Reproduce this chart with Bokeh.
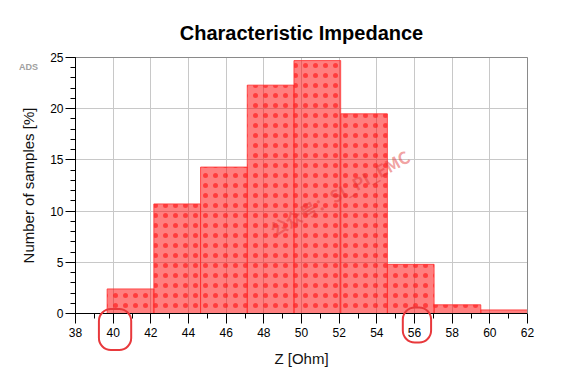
from bokeh.plotting import figure
from bokeh.models import FixedTicker, Label, Range1d, LinearAxis, BoxAnnotation
from bokeh.embed import file_html
from bokeh.resources import INLINE

# ---- data ----
bin_edges = [39.68, 42.16, 44.64, 47.12, 49.60, 52.08, 54.56, 57.04, 59.52, 62.00]
samples_pct = [2.4, 10.7, 14.3, 22.3, 24.7, 19.5, 4.8, 0.85, 0.35]
x_ticks = [38, 40, 42, 44, 46, 48, 50, 52, 54, 56, 58, 60, 62]
x_minor = list(range(38, 63))
y_ticks = [0, 5, 10, 15, 20, 25]
y_minor = list(range(0, 26))
marked_ticks = [40, 56]
x_lim = (38, 62)
y_lim = (0, 25)

FONT = "Liberation Sans"

# canvas geometry: the plotting frame covers the whole canvas so that the
# decorations below the axis are not clipped
W, H = 556, 373
PX_X = 452 / 24.0      # pixels per Ohm
PX_Y = 256 / 25.0      # pixels per percent
x0 = x_lim[0] - 75 / PX_X
y1 = y_lim[1] + 57 / PX_Y

p = figure(
    frame_width=W, frame_height=H, min_border=0,
    x_range=Range1d(x0, x0 + W / PX_X), y_range=Range1d(y1 - H / PX_Y, y1),
    output_backend="svg", toolbar_location=None,
)
p.background_fill_color = "white"
p.border_fill_color = "white"
p.outline_line_color = None

p.quad(left=bin_edges[:-1], right=bin_edges[1:], bottom=0, top=samples_pct,
       fill_color="#ff0000", fill_alpha=0.5,
       line_color="#ff3030", line_alpha=0.8, line_width=1,
       hatch_pattern="dot", hatch_color="#ff1a1a", hatch_alpha=0.65,
       hatch_scale=10, hatch_weight=1)

p.xaxis.fixed_location = y_lim[0]
p.yaxis.fixed_location = x_lim[0]
p.xaxis.bounds = x_lim
p.yaxis.bounds = y_lim

for ax, ticks, minor in ((p.xaxis, x_ticks, x_minor), (p.yaxis, y_ticks, y_minor)):
    ax.ticker = FixedTicker(ticks=ticks, minor_ticks=minor)
    ax.axis_line_color = "black"
    ax.axis_line_width = 1
    ax.major_tick_line_color = "black"
    ax.minor_tick_line_color = "black"
    ax.major_tick_out = 10
    ax.major_tick_in = 0
    ax.minor_tick_out = 5
    ax.minor_tick_in = 0
    ax.major_label_text_font = FONT
    ax.major_label_text_font_size = "12px"
    ax.major_label_text_color = "black"
    ax.axis_label_text_font = FONT
    ax.axis_label_text_font_size = "15px"
    ax.axis_label_text_font_style = "normal"
    ax.axis_label_text_color = "#111111"

p.xaxis.axis_label = "Z [Ohm]"
p.yaxis.axis_label = "Number of samples [%]"
p.xaxis.major_label_standoff = 4
p.yaxis.major_label_standoff = 2
p.xaxis.axis_label_standoff = 10
p.yaxis.axis_label_standoff = 10

p.xgrid.grid_line_color = "#c8c8c8"
p.ygrid.grid_line_color = "#c8c8c8"
p.xgrid.bounds = x_lim
p.ygrid.bounds = y_lim
try:
    p.xgrid.cross_bounds = y_lim
    p.ygrid.cross_bounds = x_lim
except Exception:
    p.add_layout(BoxAnnotation(top=y_lim[0], fill_color="white", fill_alpha=1,
                               line_color=None, level="underlay"))

# frame border (top / right)
top_ax = LinearAxis(ticker=FixedTicker(ticks=[]), fixed_location=y_lim[1], bounds=x_lim,
                    axis_line_color="#8a8a8a", major_tick_line_color=None,
                    minor_tick_line_color=None)
right_ax = LinearAxis(ticker=FixedTicker(ticks=[]), fixed_location=x_lim[1], bounds=y_lim,
                      axis_line_color="#8a8a8a", major_tick_line_color=None,
                      minor_tick_line_color=None)
p.add_layout(top_ax, "above")
p.add_layout(right_ax, "right")

# title
p.add_layout(Label(x=(x_lim[0] + x_lim[1]) / 2, y=y1 - 32 / PX_Y, text="Characteristic Impedance",
                   text_font=FONT, text_font_size="20px", text_font_style="bold",
                   text_color="black", text_align="center", text_baseline="middle"))

# "ADS" tag
p.add_layout(Label(x=x0 + 28 / PX_X, y=y1 - 66 / PX_Y, text="ADS", text_font=FONT,
                   text_font_size="9px", text_font_style="bold", text_color="#a0a0a0",
                   text_align="center", text_baseline="middle"))

# watermark
p.add_layout(Label(x=x0 + 339 / PX_X, y=y1 - 192 / PX_Y, text="公众号：SI_PI_EMC",
                   angle=29, angle_units="deg",
                   text_font="Noto Sans CJK SC", text_font_size="17px", text_font_style="bold",
                   text_color="#e03030", text_alpha=0.45,
                   text_align="center", text_baseline="middle"))

# red rounded marks around two tick labels
p.add_layout(Label(x=marked_ticks[0] + 0.1, y=-1.56, text=" ", text_font_size="1px",
                   text_align="center", text_baseline="middle",
                   border_line_color="#e8393c", border_line_width=2, border_radius=12,
                   padding=dict(left=16, right=16, top=20, bottom=20)))
p.add_layout(Label(x=marked_ticks[1] + 0.13, y=-1.12, text=" ", text_font_size="1px",
                   text_align="center", text_baseline="middle",
                   border_line_color="#e8393c", border_line_width=2, border_radius=12,
                   padding=dict(left=14, right=14, top=17, bottom=17)))

open("out.html", "w").write(file_html(p, INLINE))
